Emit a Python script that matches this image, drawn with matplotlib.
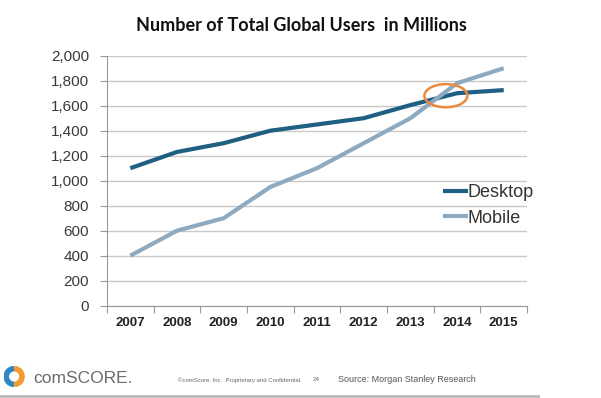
import matplotlib.pyplot as plt
import numpy as np
from matplotlib.patches import Ellipse, Wedge

years = ['2007', '2008', '2009', '2010', '2011', '2012', '2013', '2014', '2015']
desktop = [1100, 1230, 1300, 1400, 1450, 1500, 1605, 1700, 1725]
mobile = [400, 600, 700, 950, 1100, 1300, 1500, 1780, 1900]

c_desk = '#1f5f82'
c_mob = '#8eaac0'
c_grid = '#c9c9c9'

fig = plt.figure(figsize=(6.01, 3.98), dpi=100)
ax = fig.add_axes([0.178, 0.232, 0.699, 0.628])

x = np.arange(len(years))
ax.plot(x, desktop, color=c_desk, lw=3, label='Desktop', solid_capstyle='butt')
ax.plot(x, mobile, color=c_mob, lw=3, label='Mobile', solid_capstyle='butt')

ax.set_xlim(-0.5, len(years) - 0.5)
ax.set_ylim(0, 2000)
ax.set_yticks(range(0, 2001, 200))
ax.set_yticklabels([f'{v:,}' for v in range(0, 2001, 200)], family='Liberation Sans',
                   fontsize=11, color='#3a3a3a')
ax.set_xticks(x)
ax.set_xticklabels(years, family='Liberation Sans', fontweight='bold', fontsize=9.5,
                   color='#222222')
ax.set_xticks(np.arange(-0.5, len(years)), minor=True)
ax.tick_params(axis='x', which='major', length=0, pad=8)
ax.tick_params(axis='x', which='minor', length=5, color='#999999', width=0.8)
ax.tick_params(axis='y', length=5, color='#999999', width=0.8, pad=8)
ax.grid(axis='y', color=c_grid, lw=1)
ax.set_axisbelow(True)
for s in ['top', 'right']:
    ax.spines[s].set_visible(False)
ax.spines['left'].set_color('#999999')
ax.spines['bottom'].set_color('#999999')

# circle around the crossing point
ax.add_patch(Ellipse((6.76, 1680), 0.92, 185, fill=False, ec='#eb8a3c', lw=1.8, zorder=5))

leg = ax.legend(loc='upper left', bbox_to_anchor=(0.76, 0.55), frameon=False,
                handlelength=1.4, handletextpad=0.0, labelspacing=0.45,
                prop={'family': 'Liberation Sans', 'size': 13})
for t in leg.get_texts():
    t.set_color('#333333')

fig.text(0.502, 0.937, 'Number of Total Global Users  in Millions', ha='center', va='center',
         family='Lato', fontweight='bold', fontsize=13, color='#111111')

# footer
lax = fig.add_axes([0.006, 0.025, 0.035, 0.058])
lax.set_aspect('equal')
lax.set_xlim(-1, 1)
lax.set_ylim(-1, 1)
lax.axis('off')
lax.add_patch(Wedge((0, 0), 0.95, 95, 265, width=0.4, color='#2f86c4'))
lax.add_patch(Wedge((0, 0), 0.95, -85, 85, width=0.4, color='#f29a2e'))

fig.text(0.055, 0.048, 'comSCORE.', family='Liberation Sans', fontsize=12.5, color='#6a6a6a',
         va='center')
fig.text(0.296, 0.046, '\u00a9comScore, Inc.  Proprietary and Confidential.', family='Liberation Sans',
         fontsize=4.3, color='#666666', va='center')
fig.text(0.52, 0.046, '24', family='Liberation Sans', fontsize=4.5, color='#666666', va='center')
fig.text(0.562, 0.046, 'Source: Morgan Stanley Research', family='Liberation Sans', fontsize=6.5,
         color='#555555', va='center')
fig.add_artist(plt.Line2D([0, 0.895], [0.004, 0.004], color='#bbbbbb', lw=2))

fig.savefig('out.png', dpi=100, facecolor='white')
